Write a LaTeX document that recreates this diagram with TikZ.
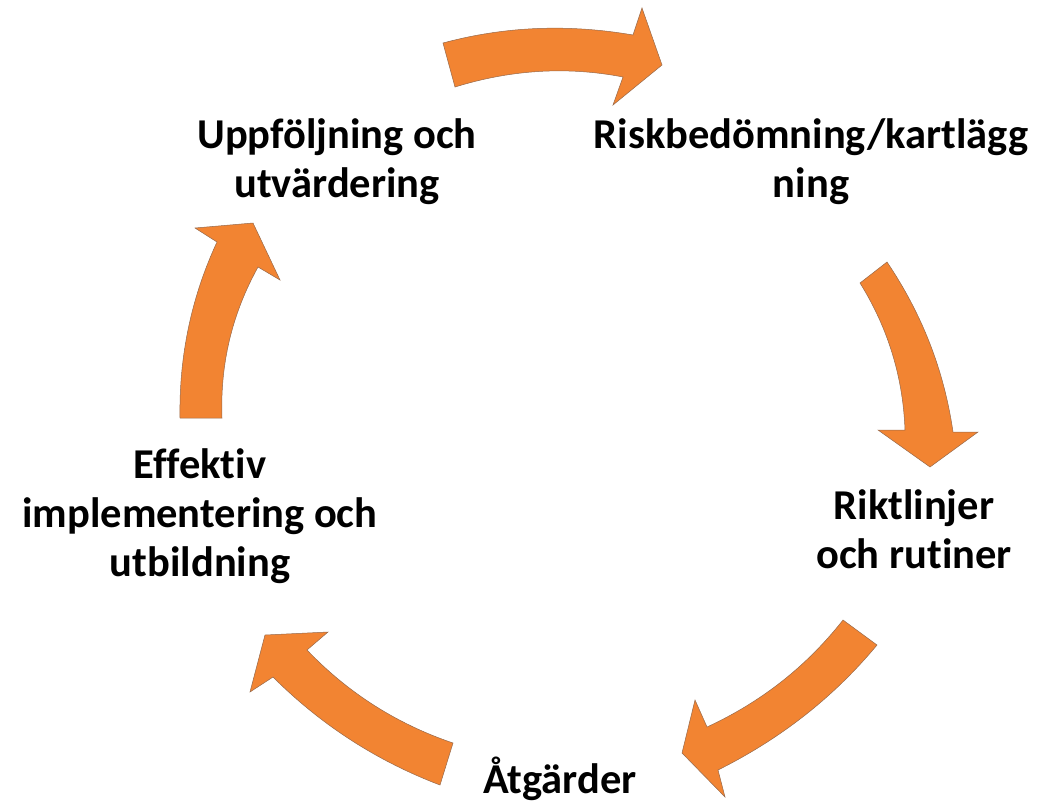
\documentclass[tikz,border=0pt]{standalone}
\usepackage{fontspec}
\setmainfont{Carlito}[Ligatures=NoCommon]
\definecolor{arrowfill}{RGB}{242,132,50}
\definecolor{arrowline}{RGB}{150,105,75}
\begin{document}
\begin{tikzpicture}[x=1pt,y=-1pt,
  cyclearrow/.style={fill=arrowfill,draw=arrowline,line width=0.5pt,line join=miter},
  steplabel/.style={inner sep=0pt,align=center,anchor=base,
    font=\bfseries\fontsize{42.5}{49}\selectfont}]
\useasboundingbox (0,0) rectangle (1051,804);
% top arrow
\path[cyclearrow] (443,43) .. controls (506,26) and (569,24) .. (633,35) -- (642,8) -- (662,65) -- (613,105)
  -- (623,77) .. controls (566,66) and (510,70) .. (455,87) -- cycle;
% right arrow
\path[cyclearrow] (887,262) -- (860,283) .. controls (888,328) and (903,377) .. (905,430) -- (878,430)
  -- (930,467) -- (978,432) -- (953,432) .. controls (944,370) and (922,314) .. (887,262) -- cycle;
% bottom-right arrow
\path[cyclearrow] (843,620) .. controls (806,667) and (761,702) .. (707,727) -- (695,700) -- (682,753)
  -- (725,797) -- (718,770) .. controls (780,739) and (833,698) .. (877,645) -- cycle;
% bottom-left arrow
\path[cyclearrow] (453,743) .. controls (397,724) and (348,693) .. (307,650) -- (328,632) -- (265,635)
  -- (250,692) -- (273,677) .. controls (321,725) and (377,761) .. (440,785) -- cycle;
% left arrow
\path[cyclearrow] (180,418) .. controls (179,357) and (191,298) .. (217,242) -- (195,228) -- (253,223)
  -- (280,280) -- (258,267) .. controls (232,314) and (220,364) .. (222,418) -- cycle;
% labels (base anchor = baseline of the last line)
\node[steplabel] (uppf) at (337,197) {Uppföljning och\\utvärdering};
\node[steplabel] (risk) at (811,197) {Riskbedömning/kartlägg\\ning};
\node[steplabel] (rikt) at (914,568) {Riktlinjer\\och rutiner};
\node[steplabel] (atg) at (560,793) {Åtgärder};
\node[steplabel] (eff) at (200,576) {Effektiv\\implementering och\\utbildning};
\end{tikzpicture}
\end{document}
